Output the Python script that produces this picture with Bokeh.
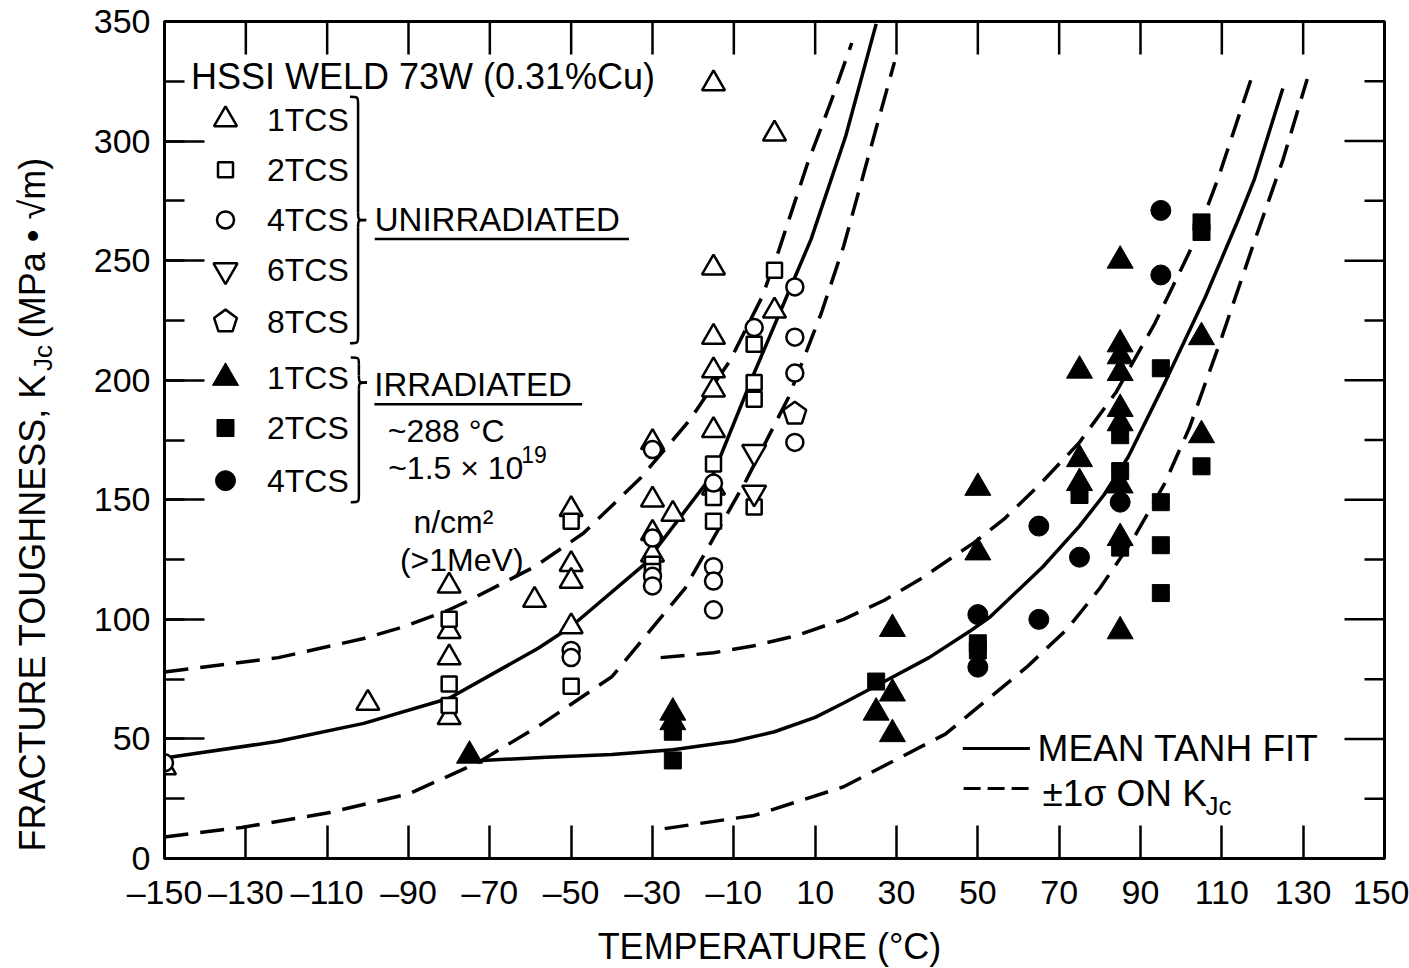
import numpy as np
from bokeh.plotting import figure
from bokeh.layouts import row
from bokeh.models import Range1d, FixedTicker, SingleIntervalTicker
from bokeh.core.properties import value
from bokeh.embed import file_html
from bokeh.resources import INLINE

FONT = "Liberation Sans"

# ---------------- axes ----------------
x_ticks = [-150, -130, -110, -90, -70, -50, -30, -10, 10, 30, 50, 70, 90, 110, 130, 150]
x_tick_labels = ["\u2013150", "\u2013130", "\u2013110", "\u201390", "\u201370", "\u201350", "\u201330",
                 "\u201310", "10", "30", "50", "70", "90", "110", "130", "150"]
y_ticks = [0, 50, 100, 150, 200, 250, 300, 350]
y_tick_labels = ["0", "50", "100", "150", "200", "250", "300", "350"]
y_minor_ticks = [25, 75, 125, 175, 225, 275, 325]

# ---------------- unirradiated specimens (T in degC, KJc in MPa*sqrt(m)) ----------------
u1_t = [-150, -100, -80, -80, -80, -80, -59, -50, -50, -50, -50, -30, -30, -25, -30, -30,
        -15, -15, -15, -15, -15, -15, -15, 0, 0]
u1_k = [38, 65, 114, 95, 84, 59, 108, 146, 123, 116, 97, 174, 150, 144, 136, 127,
        324, 247, 218, 204, 196, 179, 155, 303, 229]

u2_t = [-80, -80, -80, -50, -50, -30, -30, -15, -15, -15, -5, -5, -5, -5, 0]
u2_k = [100, 73, 64, 141, 72, 123, 120, 165, 151, 141, 215, 199, 192, 147, 246]

u4_t = [-150, -50, -50, -30, -30, -30, -30, -15, -15, -15, -15, -5, 5, 5, 5, 5]
u4_k = [40, 87, 84, 171, 134, 118, 114, 157, 122, 116, 104, 222, 239, 218, 203, 174]

u6_t = [-5, -5]
u6_k = [170, 153]

u8_t = [5]
u8_k = [186]

# ---------------- irradiated specimens ----------------
i1_t = [-75, -25, -25, 25, 29, 29, 29, 50, 50, 75, 75, 75, 85, 85, 85, 85, 85, 85, 85, 85, 85, 105, 105]
i1_k = [43, 61, 57, 61, 69, 52, 96, 155, 128, 204, 167, 157, 250, 215, 210, 203, 188, 182, 156, 134, 95, 218, 177]

i2_t = [-25, -25, 25, 50, 50, 75, 85, 85, 85, 95, 95, 95, 95, 105, 105, 105]
i2_k = [53, 41, 74, 90, 87, 152, 177, 162, 130, 205, 149, 131, 111, 266, 262, 164]

i4_t = [50, 50, 65, 65, 75, 85, 95, 95]
i4_k = [102, 80, 139, 100, 126, 149, 271, 244]

# ---------------- tanh fits (mean and +/- 1 sigma) ----------------
unirr_mean_t = [-150, -122, -101, -80, -58, -50, -32, -15, -5, 3, 9, 17.5, 25]
unirr_mean_k = [42, 49, 56.5, 67, 88, 97, 123, 161, 203, 235, 259, 302, 349]

unirr_hi_t = [-150, -122, -101, -91, -80, -75, -59, -47, -33, -21, -11, -3, 1, 8, 14, 19]
unirr_hi_k = [78, 84, 92, 97, 104, 108, 122, 136, 159, 183, 208, 235, 254, 290, 317, 341]

unirr_lo_t = [-150, -131, -110, -90, -73, -57, -40, -22, -7, 3.5, 11.5, 17, 23, 29.5]
unirr_lo_k = [9, 13, 19, 27, 40, 56.5, 76, 113, 158, 193, 228, 256, 293, 333]

irr_mean_t = [-72, -56, -40, -25, -10, 0, 10, 17, 27, 38, 48, 53, 66, 75, 81, 87, 96, 106, 114, 118, 125]
irr_mean_k = [41, 42.3, 43.5, 45.5, 49, 53, 59, 65, 74, 84, 95, 101, 122, 139, 152, 168, 199, 235, 267, 284, 322]

irr_hi_t = [-28, -15, -5, 5, 17, 27, 36, 49, 56.5, 65, 75, 84, 93.6, 103, 109, 118]
irr_hi_k = [84, 86, 89, 93, 100, 108, 117, 132, 142, 156, 174, 195, 224, 257, 284, 330]

irr_lo_t = [-27, -5, 17, 42, 62, 72, 80, 88, 96, 102, 110, 118, 125, 131]
irr_lo_k = [12.5, 18, 30, 52, 80, 96, 113, 133, 157, 180, 218, 258, 292, 326]

# ---------------- legend text ----------------
legend_labels = ["1TCS", "2TCS", "4TCS", "6TCS", "8TCS", "1TCS", "2TCS", "4TCS"]

# ---------------- layout ----------------
SIDE_W = 72                      # strip that carries the vertical axis title
FW, FH = 1220, 837               # plotting frame
FL, FR, FT, FB = 164 - SIDE_W, 25, 21, 110
XPX = FW / 300.0                 # pixels per degC
YPX = FH / 350.0                 # pixels per KJc unit

p = figure(frame_width=FW, frame_height=FH, x_range=Range1d(-150, 150), y_range=Range1d(0, 350),
           output_backend="svg", toolbar_location=None,
           min_border_left=FL, min_border_right=FR, min_border_top=FT, min_border_bottom=FB)
p.background_fill_color = "white"
p.border_fill_color = "white"
p.outline_line_color = "black"
p.outline_line_width = 3
p.xgrid.visible = False
p.ygrid.visible = False

xa = p.xaxis[0]
xa.ticker = FixedTicker(ticks=x_ticks, minor_ticks=[])
xa.axis_line_width = 3
xa.major_tick_in = 33
xa.major_tick_out = 0
xa.major_tick_line_width = 2.5
xa.minor_tick_in = 0
xa.minor_tick_out = 0
xa.major_label_overrides = {t: s for t, s in zip(x_ticks, x_tick_labels)}
xa.major_label_text_font = FONT
xa.major_label_text_font_size = "34px"
xa.major_label_text_color = "black"
xa.major_label_standoff = 14
xa.axis_label = "TEMPERATURE  (\u00b0C)"
xa.axis_label_text_font = FONT
xa.axis_label_text_font_size = "36px"
xa.axis_label_text_font_style = "normal"
xa.axis_label_text_color = "black"
xa.axis_label_standoff = 12

ya = p.yaxis[0]
ya.ticker = SingleIntervalTicker(interval=50, num_minor_ticks=2)
ya.axis_line_width = 3
ya.major_tick_in = 40
ya.major_tick_out = 0
ya.minor_tick_in = 20
ya.minor_tick_out = 0
ya.major_tick_line_width = 2.5
ya.minor_tick_line_width = 2.5
ya.major_label_overrides = {t: s for t, s in zip(y_ticks, y_tick_labels)}
ya.major_label_text_font = FONT
ya.major_label_text_font_size = "34px"
ya.major_label_text_color = "black"
ya.major_label_standoff = 14

# inward ticks mirrored on the top and right edges of the frame
tick_w = 2.5
p.segment(x0=x_ticks, y0=[350] * len(x_ticks), x1=x_ticks, y1=[350 - 33 / YPX] * len(x_ticks),
          line_color="black", line_width=tick_w)
p.segment(x0=[150] * len(y_ticks), y0=y_ticks, x1=[150 - 40 / XPX] * len(y_ticks), y1=y_ticks,
          line_color="black", line_width=tick_w)
p.segment(x0=[150] * len(y_minor_ticks), y0=y_minor_ticks, x1=[150 - 20 / XPX] * len(y_minor_ticks),
          y1=y_minor_ticks, line_color="black", line_width=tick_w)

# ---------------- fit curves ----------------
LW = 3.5
DASH = "24 12"
p.line(unirr_mean_t, unirr_mean_k, line_color="black", line_width=LW)
p.line(unirr_hi_t, unirr_hi_k, line_color="black", line_width=LW, line_dash=DASH)
p.line(unirr_lo_t, unirr_lo_k, line_color="black", line_width=LW, line_dash=DASH)
p.line(irr_mean_t, irr_mean_k, line_color="black", line_width=LW)
p.line(irr_hi_t, irr_hi_k, line_color="black", line_width=LW, line_dash=DASH)
p.line(irr_lo_t, irr_lo_k, line_color="black", line_width=LW, line_dash=DASH)


# ---------------- markers ----------------
def pentagons(xs, ys, r_px=12):
    ang = np.pi / 2 + np.arange(5) * 2 * np.pi / 5
    px = [list(x + r_px * np.cos(ang) / XPX) for x in xs]
    py = [list(y + r_px * np.sin(ang) / YPX) for y in ys]
    return px, py


def draw_sets(t1, k1, t2, k2, t4, k4, t6, k6, t8, k8, ti1, ki1, ti2, ki2, ti4, ki4):
    opn = dict(line_color="black", line_width=2.5, fill_color="white")
    p.scatter(t1, k1, marker="triangle", size=23, **opn)
    p.scatter(t2, k2, marker="square", size=15, **opn)
    p.scatter(t4, k4, marker="circle", size=17, **opn)
    p.scatter(t6, k6, marker="inverted_triangle", size=24, **opn)
    px, py = pentagons(t8, k8)
    p.patches(px, py, **opn)
    fil = dict(line_color="black", line_width=1, fill_color="black")
    p.scatter(ti1, ki1, marker="triangle", size=26, **fil)
    p.scatter(ti2, ki2, marker="square", size=17, **fil)
    p.scatter(ti4, ki4, marker="circle", size=20, **fil)


draw_sets(u1_t, u1_k, u2_t, u2_k, u4_t, u4_k, u6_t, u6_k, u8_t, u8_k,
          i1_t, i1_k, i2_t, i2_k, i4_t, i4_k)

# ---------------- legend block (upper left) ----------------
row_y = [309, 288, 267, 246, 224.5, 201, 180, 158]
mx = -135
draw_sets([mx], [row_y[0]], [mx], [row_y[1]], [mx], [row_y[2]], [mx], [row_y[3]], [mx], [row_y[4]],
          [mx], [row_y[5]], [mx], [row_y[6]], [mx], [row_y[7]])


def txt(fig, x, y, s, size, align="left", baseline="middle", angle=0.0):
    fig.text(x=[x], y=[y], text=[s], text_font=value(FONT), text_font_size=value(size),
             text_color="black", text_align=align, text_baseline=baseline, angle=angle)


txt(p, -143.5, 327, "HSSI  WELD 73W (0.31%Cu)", "36px")
for yy, lab in zip(row_y, legend_labels):
    txt(p, -104.7, yy, lab, "32px", align="right")


def brace(xs, ytop, ytip, ybot, w=2.0, ry=3.0):
    xw = xs - w
    xt = xs + w
    bx0 = [xw, xs, xt, xs]
    by0 = [ytop, ytip + ry, ytip, ybot + ry]
    bx1 = [xs, xt, xs, xw]
    by1 = [ytop - ry, ytip, ytip - ry, ybot]
    cx0 = [xs, xs, xs, xs]
    cy0 = [ytop, ytip, ytip, ybot]
    p.bezier(x0=bx0, y0=by0, x1=bx1, y1=by1, cx0=cx0, cy0=cy0, cx1=cx0, cy1=cy0,
             line_color="black", line_width=2.5)
    p.segment(x0=[xs, xs], y0=[ytop - ry, ytip - ry], x1=[xs, xs], y1=[ytip + ry, ybot + ry],
              line_color="black", line_width=2.5)


brace(-102.4, 318.5, 267, 215.5)
brace(-102.2, 209.5, 199, 149)

txt(p, -98.3, 267, "UNIRRADIATED", "33px")
p.segment(x0=[-98.3], y0=[259], x1=[-35.8], y1=[259], line_color="black", line_width=2.5)
txt(p, -98.4, 198, "IRRADIATED", "33px")
p.segment(x0=[-98.4], y0=[190], x1=[-47.3], y1=[190], line_color="black", line_width=2.5)
txt(p, -95.1, 178.7, "~288 \u00b0C", "32px")
txt(p, -95.0, 163.2, "~1.5 \u00d7 10", "32px")
txt(p, -62.3, 169.0, "19", "23px")
txt(p, -88.8, 140.6, "n/cm\u00b2", "32px")
txt(p, -92.1, 124.7, "(>1MeV)", "32px")

# ---------------- line-style key (lower right) ----------------
p.line([46.3, 62.8], [46, 46], line_color="black", line_width=3)
txt(p, 64.7, 46, "MEAN  TANH  FIT", "37px")
p.line([46.5, 63.0], [29.3, 29.3], line_color="black", line_width=3, line_dash="17 7")
txt(p, 65.9, 27.2, "\u00b11\u03c3 ON K", "37px")
txt(p, 106.0, 22.0, "Jc", "26px")

# ---------------- vertical axis title strip (frame aligned with the main plot) ----------------
side = figure(width=SIDE_W, height=FT + FH + FB, x_range=Range1d(0, SIDE_W), y_range=Range1d(0, 350),
              output_backend="svg", toolbar_location=None, x_axis_location=None, y_axis_location=None,
              min_border_left=0, min_border_right=0, min_border_top=FT, min_border_bottom=FB)
side.outline_line_color = None
side.xgrid.visible = False
side.ygrid.visible = False
side.background_fill_color = "white"
side.border_fill_color = "white"
title_len = 478 / YPX            # length of the main run of the title, in KJc units
txt(side, 32, 2.5, "FRACTURE TOUGHNESS, K", "36px", angle=np.pi / 2)
txt(side, 42, 2.5 + title_len + 3 / YPX, "Jc", "26px", angle=np.pi / 2)
txt(side, 32, 2.5 + title_len + 36 / YPX, "(MPa \u2022 \u221am)", "36px", angle=np.pi / 2)

layout = row(side, p, spacing=0)
open("out.html", "w").write(file_html(layout, INLINE))
